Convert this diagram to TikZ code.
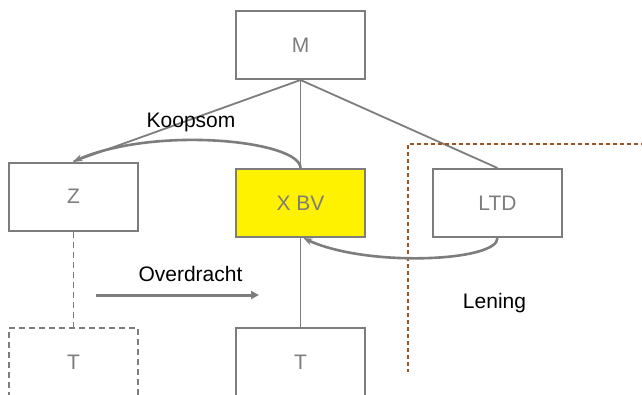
\documentclass[tikz,border=0pt]{standalone}
\usepackage{fontspec}
\setmainfont{Liberation Sans}
\usetikzlibrary{arrows.meta, bending}
\definecolor{boxgray}{RGB}{125,125,125}
\definecolor{framebrown}{RGB}{160,82,30}
\tikzset{
  entity box/.style={
    draw=boxgray, line width=2pt, rectangle,
    minimum width=129pt, minimum height=68pt,
    text=boxgray, font=\fontsize{21}{25}\selectfont
  },
  flow label/.style={font=\fontsize{21}{25}\selectfont, text=black},
  link line/.style={draw=boxgray, line width=1.8pt},
  money arrow/.style={
    draw=boxgray, line width=2.6pt,
    -{Stealth[bend, length=9pt, width=7pt]}
  }
}

\begin{document}
\begin{tikzpicture}[x=1pt, y=-1pt]
    % Canvas of the picture
    \clip (0,0) rectangle (642,394);
    \fill[white] (0,0) rectangle (642,394);

    % The companies
    \node[entity box] (m) at (300.5,45) {M};
    \node[entity box] (z) at (73.5,196.5) {Z};
    \node[entity box, fill=yellow] (xbv) at (300.5,203) {X BV};
    \node[entity box] (ltd) at (497.5,203) {LTD};
    \node[entity box, dashed, dash pattern=on 6pt off 4pt] (tz) at (73.5,362) {T};
    \node[entity box] (tx) at (300.5,362) {T};

    % Shareholdings
    \draw[link line] (m.south) -- (z.north);
    \draw[link line] (m.south) -- (xbv.north);
    \draw[link line] (m.south) -- (ltd.north);
    \draw[link line, dash pattern=on 6pt off 4pt] (z.south) -- (tz.north);
    \draw[link line] (xbv.south) -- (tx.north);

    % Foreign part, framed
    \coordinate (frame tr) at (645,144);
    \coordinate (frame tl) at (408,144);
    \coordinate (frame bl) at (408,372);
    \draw[framebrown, line width=1.4pt, dash pattern=on 4pt off 3pt]
        (frame tr) -- (frame tl) -- (frame bl);

    % Purchase price and loan
    \draw[money arrow] (xbv.north) .. controls (300,140) and (150,125) .. (z.north);
    \draw[money arrow] (ltd.south) .. controls (498,262) and (360,268) .. ([xshift=3pt]xbv.south);

    % Transfer of T
    \coordinate (transfer start) at (96,295);
    \coordinate (transfer end) at (259,295);
    \draw[draw=boxgray, line width=3pt, -{Triangle[length=8pt, width=8pt]}]
        (transfer start) -- (transfer end);

    % Labels
    \node[flow label] (koopsom) at (191,122) {Koopsom};
    \node[flow label] (overdracht) at (190.5,274) {Overdracht};
    \node[flow label] (lening) at (494.5,303) {Lening};
\end{tikzpicture}
\end{document}
